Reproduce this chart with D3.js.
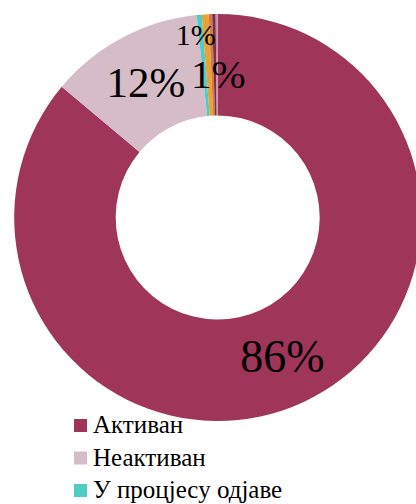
<!DOCTYPE html>
<html>
<head>
<meta charset="utf-8">
<script src="https://cdn.jsdelivr.net/npm/d3@7"></script>
<style>
  html, body { margin: 0; padding: 0; background: #fff; overflow: hidden; }
  text { font-family: 'Liberation Serif', 'Times New Roman', serif; }
</style>
</head>
<body>
<svg id="chart" width="416" height="504"></svg>
<script>
// Data
const categories = ["Активан", "Неактиван", "У процјесу одјаве", "Категорија 4", "Категорија 5", "Категорија 6", "Категорија 7"];
const values = [86.1, 12.25, 0.4, 0.55, 0.27, 0.27, 0.16];
const labelTexts = ["86%", "12%", "1%", "1%", "", "", ""];
const legendShown = ["Активан", "Неактиван", "У процјесу одјаве"];

// Styles
const colors = ["#A0355A", "#D6BCC6", "#4ECDC4", "#E8A238", "#D8773A", "#7B2D4E", "#C98AA2"];
const labelSizes = [46, 43, 30, 41, 0, 0, 0];
const labelShift = [[0, 0], [0, 0], [-8, -31], [10, 9], [0, 0], [0, 0], [0, 0]];

const svg = d3.select("#chart");
const cx = 217.7, cy = 217.5, rOuter = 203.5, rInner = 102;

const pie = d3.pie().sort(null).value(d => d.v);
const data = categories.map((c, i) => ({ c, v: values[i], i }));
const arcs = pie(data);
const arc = d3.arc().innerRadius(rInner).outerRadius(rOuter);

const g = svg.append("g").attr("transform", `translate(${cx},${cy})`);
g.selectAll("path.slice").data(arcs).join("path")
  .attr("class", "slice")
  .attr("d", arc)
  .attr("fill", d => colors[d.data.i]);

g.selectAll("text.lbl").data(arcs.filter(d => labelTexts[d.data.i])).join("text")
  .attr("class", "lbl")
  .attr("text-anchor", "middle")
  .attr("font-size", d => labelSizes[d.data.i])
  .attr("fill", "#000")
  .attr("x", d => arc.centroid(d)[0] + labelShift[d.data.i][0])
  .attr("y", d => arc.centroid(d)[1] + labelShift[d.data.i][1] + 0.34 * labelSizes[d.data.i])
  .text(d => labelTexts[d.data.i]);

// Legend
const legend = svg.append("g").attr("transform", "translate(74,419)");
const rowH = 32.5;
legendShown.forEach((name, k) => {
  const i = categories.indexOf(name);
  const row = legend.append("g").attr("transform", `translate(0,${k * rowH})`);
  row.append("rect").attr("width", 13).attr("height", 13).attr("fill", colors[i]);
  row.append("text").attr("x", 19).attr("y", 14)
    .attr("font-size", 25).attr("fill", "#000").text(name);
});
</script>
</body>
</html>
